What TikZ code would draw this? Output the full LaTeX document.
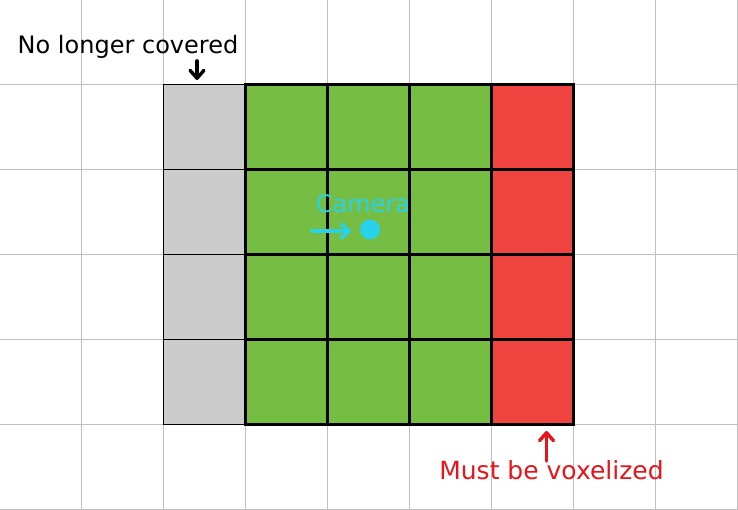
\documentclass[tikz,border=0pt]{standalone}
\usepackage{fontspec}
\setmainfont{DejaVu Sans}
\usetikzlibrary{arrows.meta}
\definecolor{cellgreen}{HTML}{76BE43}
\definecolor{cellred}{HTML}{EF4440}
\definecolor{cellgray}{HTML}{CCCCCC}
\definecolor{gridgray}{HTML}{C0C0C0}
\definecolor{camcyan}{HTML}{29D2EB}
\definecolor{labelred}{HTML}{E8141C}
\begin{document}
\begin{tikzpicture}[x=1pt,y=-1pt,
  gridline/.style={draw=gridgray,line width=1.2pt},
  graycell/.style={fill=cellgray,draw=black,line width=1.5pt},
  greencell/.style={fill=cellgreen,draw=black,line width=3pt},
  redcell/.style={fill=cellred,draw=black,line width=3pt},
  lbl/.style={inner sep=0pt,anchor=base,font=\fontsize{24}{28}\selectfont},
  handarrow/.style={line width=3.6pt,line cap=round,-{Straight Barb[length=8pt,width=14pt,line width=3.4pt,line cap=round,line join=round]}}
]
\useasboundingbox (0,0) rectangle (738,510);
\fill[white] (0,0) rectangle (738,510);
% background grid
\foreach \i in {0,...,8} \draw[gridline] ({81.5+82*\i},0) -- ({81.5+82*\i},510);
\foreach \j in {0,...,5} \draw[gridline] (0,{84.5+85*\j}) -- (738,{84.5+85*\j});
% gray column
\foreach \j in {0,...,3} \draw[graycell] (163.5,{84.5+85*\j}) rectangle ++(82,85);
% green cells
\foreach \i in {0,1,2} \foreach \j in {0,...,3}
  \draw[greencell] ({245.5+82*\i},{84.5+85*\j}) rectangle ++(82,85);
% red column
\foreach \j in {0,...,3} \draw[redcell] (491.5,{84.5+85*\j}) rectangle ++(82,85);
\draw[line width=3.5pt] (245.5,84.5) rectangle (573.5,424.5);
% labels
\node[lbl,text=black] (nolonger) at (128,53.3) {No longer covered};
\node[lbl,text=labelred,font=\fontsize{25}{29}\selectfont] (voxel) at (551.5,479) {Must be voxelized};
\node[lbl,text=camcyan] (camlbl) at (363,212.3) {Camera};
% camera
\node[circle,fill=camcyan,minimum size=20pt,inner sep=0pt] (cam) at (370,229.5) {};
\coordinate (camtail) at (312,231);
\coordinate (camtip) at (351,231);
\draw[handarrow,draw=camcyan] (camtail) -- (camtip);
% annotation arrows
\coordinate (notail) at (197,61);
\coordinate (notip) at (197,80);
\draw[handarrow,draw=black] (notail) -- (notip);
\coordinate (voxtail) at (546.5,461);
\coordinate (voxtip) at (546.5,431);
\draw[handarrow,draw=labelred] (voxtail) -- (voxtip);
\end{tikzpicture}
\end{document}
